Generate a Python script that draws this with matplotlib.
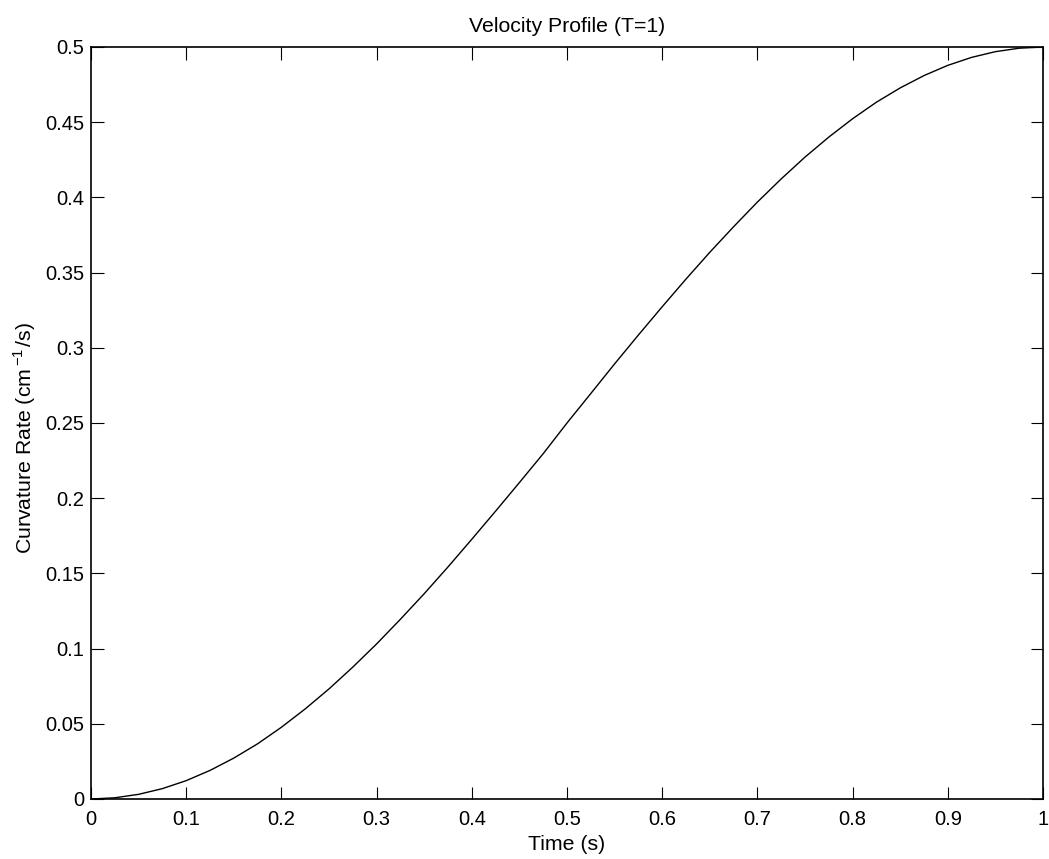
import matplotlib
matplotlib.use("Agg")
import matplotlib.pyplot as plt

# values
time_s = [0.0, 0.025, 0.05, 0.075, 0.1, 0.125, 0.15, 0.175, 0.2, 0.225,
          0.25, 0.275, 0.3, 0.325, 0.35, 0.375, 0.4, 0.425, 0.45, 0.475,
          0.5, 0.525, 0.55, 0.575, 0.6, 0.625, 0.65, 0.675, 0.7, 0.725,
          0.75, 0.775, 0.8, 0.825, 0.85, 0.875, 0.9, 0.925, 0.95, 0.975, 1.0]
curv_rate = [0.0, 0.0008, 0.0031, 0.0069, 0.0122, 0.0190, 0.0272, 0.0367, 0.0477, 0.0599,
             0.0732, 0.0877, 0.1031, 0.1195, 0.1365, 0.1543, 0.1727, 0.1914, 0.2104, 0.2296,
             0.2500, 0.2696, 0.2893, 0.3085, 0.3273, 0.3457, 0.3635, 0.3805, 0.3969, 0.4123,
             0.4268, 0.4401, 0.4523, 0.4633, 0.4728, 0.4810, 0.4878, 0.4931, 0.4969, 0.4992, 0.5]

xticks = [0, 0.1, 0.2, 0.3, 0.4, 0.5, 0.6, 0.7, 0.8, 0.9, 1]
yticks = [0, 0.05, 0.1, 0.15, 0.2, 0.25, 0.3, 0.35, 0.4, 0.45, 0.5]
xtick_labels = ["0", "0.1", "0.2", "0.3", "0.4", "0.5", "0.6", "0.7", "0.8", "0.9", "1"]
ytick_labels = ["0", "0.05", "0.1", "0.15", "0.2", "0.25", "0.3", "0.35", "0.4", "0.45", "0.5"]

plt.rcParams['font.family'] = ['Liberation Sans', 'DejaVu Sans']
plt.rcParams['mathtext.fontset'] = 'custom'
plt.rcParams['mathtext.rm'] = 'Liberation Sans'

fig = plt.figure(figsize=(10.49, 8.59), dpi=100)
ax = fig.add_axes([91 / 1049, 1 - 799 / 859, (1043 - 91) / 1049, (799 - 47) / 859])

ax.plot(time_s, curv_rate, color="black", linewidth=1.0)

ax.set_xlim(0, 1)
ax.set_ylim(0, 0.5)
ax.set_xticks(xticks)
ax.set_xticklabels(xtick_labels)
ax.set_yticks(yticks)
ax.set_yticklabels(ytick_labels)
ax.tick_params(direction="in", length=9, width=0.8, labelsize=14.5,
               top=True, right=True)
ax.tick_params(axis="x", pad=8)
ax.tick_params(axis="y", pad=5)
for s in ax.spines.values():
    s.set_linewidth(1.2)

ax.set_title("Velocity Profile (T=1)", fontsize=15.3, pad=11)
ax.set_xlabel("Time (s)", fontsize=15.3, labelpad=4)
ax.set_ylabel(r"Curvature Rate (cm$^{\,\mathrm{-1}\,}$/s)", fontsize=15.3)
ax.yaxis.set_label_coords(-0.056, 0.48)

fig.savefig("out.png", dpi=100)
